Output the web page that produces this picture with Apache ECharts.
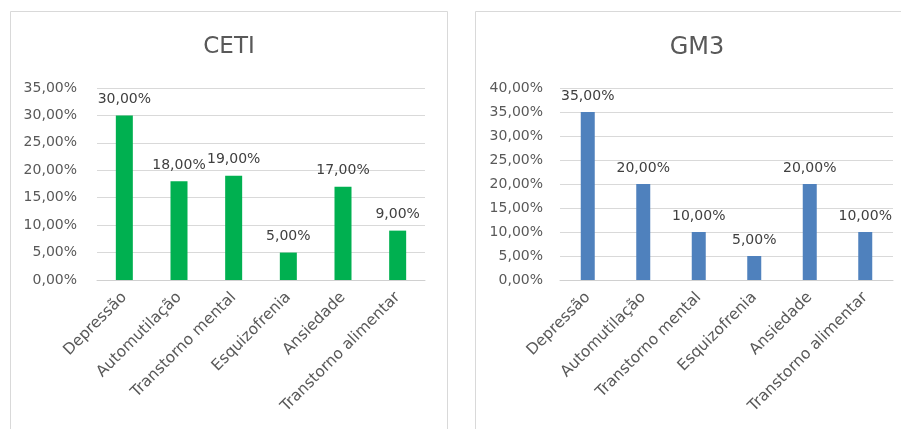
<!DOCTYPE html>
<html>
<head>
<meta charset="utf-8">
<script src="https://cdn.jsdelivr.net/npm/echarts@6/dist/echarts.min.js"></script>
<style>
  html, body { margin: 0; padding: 0; background: #ffffff; }
  #chart { width: 901px; height: 429px; }
</style>
</head>
<body>
<div id="chart"></div>
<script>
// Categories shared by both panels
const categories = ['Depressão', 'Automutilação', 'Transtorno mental', 'Esquizofrenia', 'Ansiedade', 'Transtorno alimentar'];

// Percent values per panel
const cetiValues = [30, 18, 19, 5, 17, 9];
const gm3Values = [35, 20, 10, 5, 20, 10];

// Panel titles
const cetiTitle = 'CETI';
const gm3Title = 'GM3';

// Value axis ranges (percent)
const cetiMax = 35;
const gm3Max = 40;
const tickStep = 5;

const FONT = 'DejaVu Sans';
const AXIS_TEXT = '#595959';
const LABEL_TEXT = '#404040';
const GRID_LINE = '#d9d9d9';

function pct(v) {
  return v.toFixed(2).replace('.', ',') + '%';
}

function xAxisFor(gridIndex) {
  return {
    type: 'category',
    gridIndex: gridIndex,
    data: categories,
    axisLine: { show: true, lineStyle: { color: '#d0d0d0', width: 1 } },
    axisTick: { show: false },
    axisLabel: {
      rotate: 45,
      margin: 15,
      interval: 0,
      color: AXIS_TEXT,
      fontFamily: FONT,
      fontSize: 15.5
    }
  };
}

function yAxisFor(gridIndex, max, margin) {
  return {
    type: 'value',
    gridIndex: gridIndex,
    min: 0,
    max: max,
    interval: tickStep,
    axisLine: { show: false },
    axisTick: { show: false },
    splitLine: { lineStyle: { color: GRID_LINE, width: 1 } },
    axisLabel: {
      margin: margin,
      color: AXIS_TEXT,
      fontFamily: FONT,
      fontSize: 14,
      formatter: pct
    }
  };
}

function barSeries(idx, values, color, width) {
  return {
    type: 'bar',
    xAxisIndex: idx,
    yAxisIndex: idx,
    data: values,
    barWidth: width,
    itemStyle: { color: color },
    label: {
      show: true,
      position: 'top',
      distance: 9,
      color: LABEL_TEXT,
      fontFamily: FONT,
      fontSize: 14,
      formatter: p => pct(p.value)
    },
    animation: false
  };
}

const chart = echarts.init(document.getElementById('chart'), null, { renderer: 'canvas' });

chart.setOption({
  backgroundColor: '#ffffff',
  animation: false,
  title: [
    {
      text: cetiTitle,
      left: 224, top: 31, textAlign: 'center',
      textStyle: { fontFamily: FONT, fontSize: 23, fontWeight: 'normal', color: AXIS_TEXT }
    },
    {
      text: gm3Title,
      left: 692, top: 31, textAlign: 'center',
      textStyle: { fontFamily: FONT, fontSize: 24, fontWeight: 'normal', color: AXIS_TEXT }
    }
  ],
  graphic: [
    // panel frames
    {
      type: 'rect', silent: true, z: -1,
      shape: { x: 10.5, y: 11.5, width: 437, height: 430 },
      style: { fill: '#ffffff', stroke: '#d9d9d9', lineWidth: 1 }
    },
    {
      type: 'rect', silent: true, z: -1,
      shape: { x: 475.5, y: 11.5, width: 440, height: 430 },
      style: { fill: '#ffffff', stroke: '#d9d9d9', lineWidth: 1 }
    }
  ],
  grid: [
    { left: 97, top: 88, width: 328, height: 192, containLabel: false },
    { left: 560, top: 88, width: 333, height: 192, containLabel: false }
  ],
  xAxis: [xAxisFor(0), xAxisFor(1)],
  yAxis: [yAxisFor(0, cetiMax, 20), yAxisFor(1, gm3Max, 17)],
  series: [
    barSeries(0, cetiValues, '#00b050', 17),
    barSeries(1, gm3Values, '#4f81bd', 14)
  ]
});
</script>
</body>
</html>
